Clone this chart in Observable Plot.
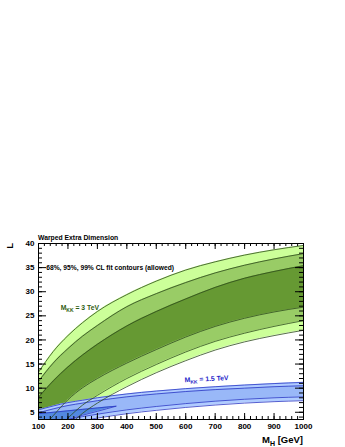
<!DOCTYPE html>
<html><head><meta charset="utf-8">
<script src="https://cdn.jsdelivr.net/npm/d3@7"></script>
<script src="https://cdn.jsdelivr.net/npm/@observablehq/plot@0.6"></script>
<style>
body{margin:0;background:#fff;}
#chart svg{display:block;}
</style></head><body><div id="chart"></div>
<script>
// Higgs mass sample points (GeV)
const massGeV = [100, 150, 200, 250, 300, 400, 500, 600, 700, 800, 900, 1000];
// M_KK = 3 TeV contours (L values)
const green99Upper = [13.3, 17.6, 20.9, 23.6, 25.9, 29.4, 32.2, 34.5, 36.2, 37.6, 38.7, 39.6];
const green95Upper = [11.4, 15.2, 18.2, 20.8, 23.0, 26.9, 29.6, 31.9, 33.9, 35.5, 36.8, 37.9];
const green68Upper = [8.1, 11.5, 14.4, 16.9, 19.1, 22.9, 25.9, 28.5, 30.9, 32.8, 34.2, 35.4];
const green68Lower = [0.8, 4.3, 7.6, 10.1, 12.0, 15.2, 18.0, 20.6, 22.8, 24.5, 25.8, 26.8];
const green95Lower = [-2.0, 0.7, 3.8, 6.5, 8.5, 12.0, 14.9, 17.5, 19.7, 21.4, 22.8, 24.0];
const green99Lower = [-4.0, -1.0, 2.0, 4.8, 6.9, 10.3, 13.2, 15.7, 17.9, 19.6, 20.9, 22.0];
// M_KK = 1.5 TeV contours
const blue99Upper = [5.5, 6.3, 7.0, 7.5, 8.0, 8.8, 9.4, 9.9, 10.3, 10.65, 10.95, 11.2];
const blue95Upper = [4.9, 5.7, 6.4, 6.9, 7.4, 8.2, 8.8, 9.3, 9.7, 10.0, 10.3, 10.5];
const blue95Lower = [2.0, 2.8, 3.5, 4.1, 4.6, 5.5, 6.2, 6.8, 7.3, 7.7, 8.0, 8.2];
const blue99Lower = [1.0, 1.9, 2.7, 3.3, 3.8, 4.7, 5.4, 6.0, 6.5, 6.9, 7.2, 7.4];
const blue68Mass = [100, 150, 200, 250, 300, 363];
const blue68Upper = [4.7, 5.0, 5.3, 5.6, 5.9, 6.25];
const blue68Lower = [1.5, 2.5, 3.5, 4.4, 5.2, 6.25];
// axis ticks
const xMajorTicks = [100, 200, 300, 400, 500, 600, 700, 800, 900, 1000];
const xMinorTicks = d3.range(100, 1001, 20);
const yMajorTicks = [5, 10, 15, 20, 25, 30, 35, 40];
const yMinorTicks = d3.range(4, 41, 1);

const W = 345, H = 447, mL = 38, mR = 42, mT = 243, mB = 28;
const fw = W - mL - mR, fh = H - mT - mB;
const curve = "monotone-x";
const band = (xs, lo, hi) => xs.map((x, i) => ({x, lo: lo[i], hi: hi[i]}));
const line = (xs, ys) => xs.map((x, i) => ({x, y: ys[i]}));

const gCol = {c99: "#ccff99", c95: "#99cc66", c68: "#669933", line: "#2c4a1a"};
const bCol = {c99: "#b0ccff", c95: "#99b8f8", c68: "#5288e0", line: "#2a36c4"};

const areas = (xs, lo, hi, fill) => Plot.areaY(band(xs, lo, hi), {x: "x", y1: "lo", y2: "hi", fill, curve, clip: true});
const lineMark = (xs, ys, stroke, sw = 0.8) => Plot.line(line(xs, ys), {x: "x", y: "y", stroke, strokeWidth: sw, curve, clip: true});

const plot = Plot.plot({
  width: W, height: H,
  marginLeft: mL, marginRight: mR, marginTop: mT, marginBottom: mB,
  style: {background: "#fff", fontFamily: "'Liberation Sans', Arial, sans-serif"},
  x: {domain: [100, 1000], axis: null},
  y: {domain: [3.5, 40], axis: null},
  marks: [
    areas(massGeV, green99Lower, green99Upper, gCol.c99),
    areas(massGeV, green95Lower, green95Upper, gCol.c95),
    areas(massGeV, green68Lower, green68Upper, gCol.c68),
    areas(massGeV, blue99Lower, blue99Upper, bCol.c99),
    areas(massGeV, blue95Lower, blue95Upper, bCol.c95),
    areas(blue68Mass, blue68Lower, blue68Upper, bCol.c68),
    lineMark(massGeV, blue99Upper, bCol.line),
    lineMark(massGeV, blue95Upper, bCol.line),
    lineMark(massGeV, blue95Lower, bCol.line),
    lineMark(massGeV, blue99Lower, bCol.line),
    lineMark(blue68Mass, blue68Upper, bCol.line),
    lineMark(blue68Mass, blue68Lower, bCol.line),
    lineMark(massGeV, green99Upper, gCol.line),
    lineMark(massGeV, green95Upper, gCol.line),
    lineMark(massGeV, green68Upper, gCol.line),
    lineMark(massGeV, green68Lower, gCol.line),
    lineMark(massGeV, green95Lower, gCol.line),
    lineMark(massGeV, green99Lower, gCol.line),
    // ticks inside frame
    Plot.tickX(xMinorTicks, {x: d => d, insetTop: fh - 3, stroke: "#000"}),
    Plot.tickX(xMinorTicks, {x: d => d, insetBottom: fh - 3, stroke: "#000"}),
    Plot.tickX(xMajorTicks, {x: d => d, insetTop: fh - 6, stroke: "#000"}),
    Plot.tickX(xMajorTicks, {x: d => d, insetBottom: fh - 6, stroke: "#000"}),
    Plot.tickY(yMinorTicks, {y: d => d, insetRight: fw - 4, stroke: "#000"}),
    Plot.tickY(yMinorTicks, {y: d => d, insetLeft: fw - 4, stroke: "#000"}),
    Plot.tickY(yMajorTicks, {y: d => d, insetRight: fw - 8, stroke: "#000"}),
    Plot.tickY(yMajorTicks, {y: d => d, insetLeft: fw - 8, stroke: "#000"}),
    Plot.frame({stroke: "#000", strokeWidth: 1}),
    Plot.text(yMajorTicks, {y: d => d, frameAnchor: "left", text: d => String(d), textAnchor: "end", dx: -4, fontSize: 8, fontWeight: "bold", fill: "#000"}),
    Plot.text(xMajorTicks, {x: d => d, frameAnchor: "bottom", text: d => String(d), dy: 7, lineAnchor: "middle", fontSize: 8, fontWeight: "bold", fill: "#000"})
  ]
});

const svg = d3.select(plot);
const xs = plot.scale("x"), ys = plot.scale("y");
const font = "'Liberation Sans', Arial, sans-serif";

// title
svg.append("text").attr("x", mL).attr("y", mT - 3).attr("text-anchor", "start").attr("font-family", font).attr("font-size", 6.8).attr("font-weight", "bold").attr("fill", "#000").text("Warped Extra Dimension");
// y label
svg.append("text").attr("transform", `translate(13,${mT}) rotate(-90)`).attr("text-anchor", "end").attr("font-family", font).attr("font-size", 9.5).attr("font-weight", "bold").attr("fill", "#000").text("L");
// x label with subscript
const xl = svg.append("text").attr("x", mL + fw).attr("y", H - 4).attr("text-anchor", "end").attr("font-family", font).attr("font-size", 9.5).attr("font-weight", "bold").attr("fill", "#000");
xl.append("tspan").text("M");
xl.append("tspan").attr("dy", 2.5).attr("font-size", 7).text("H");
xl.append("tspan").attr("dy", -2.5).text(" [GeV]");
// CL label
svg.append("text").attr("x", xs.apply(128)).attr("y", ys.apply(34.8)).attr("dy", "0.35em").attr("text-anchor", "start").attr("font-family", font).attr("font-size", 6.7).attr("font-weight", "bold").attr("fill", "#000").text("68%, 95%, 99% CL fit contours (allowed)");
// M_KK labels
function kk(xv, yv, value, color, rot) {
  const px = xs.apply(xv), py = ys.apply(yv);
  const t = svg.append("text").attr("transform", `translate(${px},${py}) rotate(${rot})`).attr("dy", "0.35em").attr("text-anchor", "start").attr("font-family", font).attr("font-size", 6.8).attr("font-weight", "bold").attr("fill", color);
  t.append("tspan").text("M");
  t.append("tspan").attr("dy", 1.8).attr("font-size", 5).text("KK");
  t.append("tspan").attr("dy", -1.8).text(" = " + value + " TeV");
}
kk(177, 26.5, "3", "#2e5c10", 0);
kk(598, 11.6, "1.5", "#2323c8", -3);

document.getElementById("chart").appendChild(plot);
</script>
</body></html>
